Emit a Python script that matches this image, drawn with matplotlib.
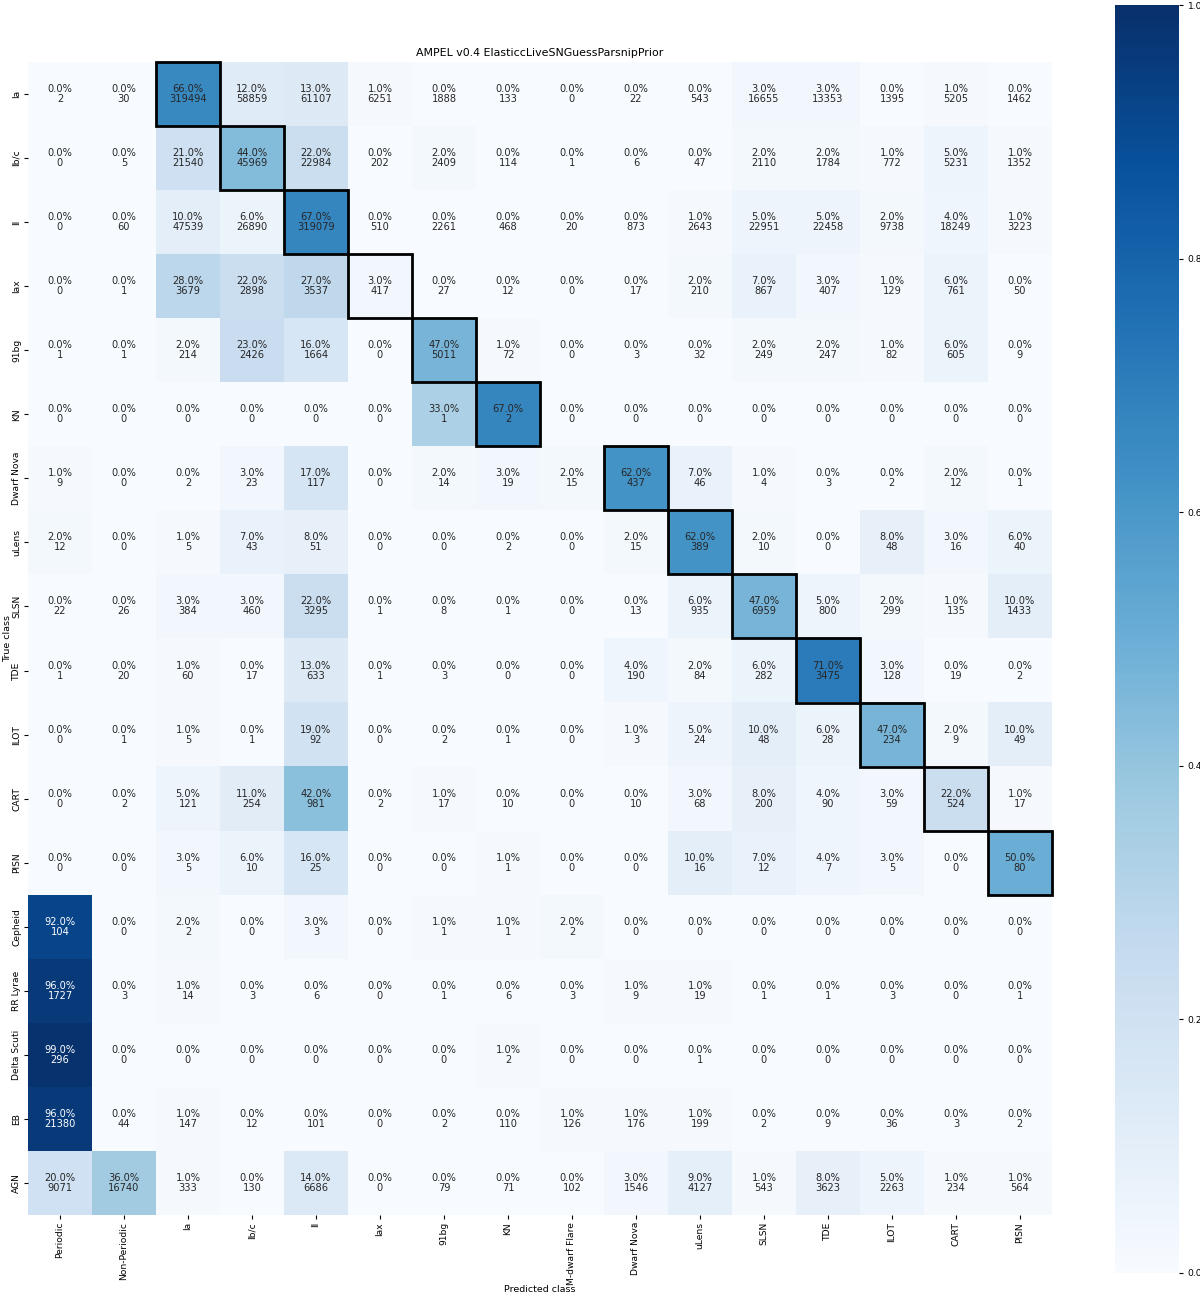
import numpy as np
import matplotlib
matplotlib.use("Agg")
import matplotlib.pyplot as plt
from matplotlib.patches import Rectangle
from matplotlib.colors import to_rgb

# -------------------------------------------------
# Data: confusion matrix counts (rows = true, cols = predicted)
# -------------------------------------------------
pred_classes = ["Periodic", "Non-Periodic", "Ia", "Ib/c", "II", "Iax", "91bg", "KN",
                "M-dwarf Flare", "Dwarf Nova", "uLens", "SLSN", "TDE", "ILOT", "CART", "PISN"]
true_classes = ["Ia", "Ib/c", "II", "Iax", "91bg", "KN", "Dwarf Nova", "uLens", "SLSN",
                "TDE", "ILOT", "CART", "PISN", "Cepheid", "RR Lyrae", "Delta Scuti", "EB", "AGN"]

counts = [
    [2, 30, 319494, 58859, 61107, 6251, 1888, 133, 0, 22, 543, 16655, 13353, 1395, 5205, 1462],
    [0, 5, 21540, 45969, 22984, 202, 2409, 114, 1, 6, 47, 2110, 1784, 772, 5231, 1352],
    [0, 60, 47539, 26890, 319079, 510, 2261, 468, 20, 873, 2643, 22951, 22458, 9738, 18249, 3223],
    [0, 1, 3679, 2898, 3537, 417, 27, 12, 0, 17, 210, 867, 407, 129, 761, 50],
    [1, 1, 214, 2426, 1664, 0, 5011, 72, 0, 3, 32, 249, 247, 82, 605, 9],
    [0, 0, 0, 0, 0, 0, 1, 2, 0, 0, 0, 0, 0, 0, 0, 0],
    [9, 0, 2, 23, 117, 0, 14, 19, 15, 437, 46, 4, 3, 2, 12, 1],
    [12, 0, 5, 43, 51, 0, 0, 2, 0, 15, 389, 10, 0, 48, 16, 40],
    [22, 26, 384, 460, 3295, 1, 8, 1, 0, 13, 935, 6959, 800, 299, 135, 1433],
    [1, 20, 60, 17, 633, 1, 3, 0, 0, 190, 84, 282, 3475, 128, 19, 2],
    [0, 1, 5, 1, 92, 0, 2, 1, 0, 3, 24, 48, 28, 234, 9, 49],
    [0, 2, 121, 254, 981, 2, 17, 10, 0, 10, 68, 200, 90, 59, 524, 17],
    [0, 0, 5, 10, 25, 0, 0, 1, 0, 0, 16, 12, 7, 5, 0, 80],
    [104, 0, 2, 0, 3, 0, 1, 1, 2, 0, 0, 0, 0, 0, 0, 0],
    [1727, 3, 14, 3, 6, 0, 1, 6, 3, 9, 19, 1, 1, 3, 0, 1],
    [296, 0, 0, 0, 0, 0, 0, 2, 0, 0, 1, 0, 0, 0, 0, 0],
    [21380, 44, 147, 12, 101, 0, 2, 110, 126, 176, 199, 2, 9, 36, 3, 2],
    [9071, 16740, 333, 130, 6686, 0, 79, 71, 102, 1546, 4127, 543, 3623, 2263, 234, 564],
]

title = "AMPEL v0.4 ElasticcLiveSNGuessParsnipPrior"

cm = np.array(counts, dtype=float)
frac = np.round(cm / cm.sum(axis=1, keepdims=True), 2)

# -------------------------------------------------
# Figure
# -------------------------------------------------
fig = plt.figure(figsize=(12, 12.95), dpi=100)
ax = fig.add_axes([0.0233, 0.0618, 0.8533, 0.8903])
cax = fig.add_axes([0.929, 0.017, 0.0533, 0.979])

cmap = plt.get_cmap("Blues")
im = ax.imshow(frac, cmap=cmap, vmin=0, vmax=1, aspect="auto", interpolation="nearest")

n_rows, n_cols = frac.shape
for i in range(n_rows):
    for j in range(n_cols):
        r, g, b = to_rgb(cmap(frac[i, j]))
        lum = 0.2126 * r + 0.7152 * g + 0.0722 * b
        color = "white" if lum < 0.408 else "#262626"
        ax.text(j, i, f"{frac[i, j] * 100:.1f}%\n{int(cm[i, j])}",
                ha="center", va="center", fontsize=7.1, color=color, linespacing=1.0)

# boxes around cells where true class == predicted class
for i, t in enumerate(true_classes):
    if t in pred_classes:
        j = pred_classes.index(t)
        ax.add_patch(Rectangle((j - 0.5, i - 0.5), 1, 1, fill=False,
                               edgecolor="black", lw=2, clip_on=False))

ax.set_xticks(range(n_cols))
ax.set_xticklabels(pred_classes, rotation=90, fontsize=6.6)
ax.set_yticks(range(n_rows))
ax.set_yticklabels(true_classes, rotation=90, va="center", fontsize=6.6)
ax.tick_params(length=3, width=0.8, pad=2)
for s in ax.spines.values():
    s.set_visible(False)
ax.set_xlabel("Predicted class", fontsize=6.8, labelpad=0)
ax.set_ylabel("True class", fontsize=6.8, labelpad=0)
ax.set_title(title, fontsize=7.9, pad=4)

cb = fig.colorbar(im, cax=cax)
cb.outline.set_visible(False)
cb.set_ticks([0.0, 0.2, 0.4, 0.6, 0.8, 1.0])
cb.ax.tick_params(labelsize=6.6, length=3)

plt.savefig("out.png", dpi=100)
